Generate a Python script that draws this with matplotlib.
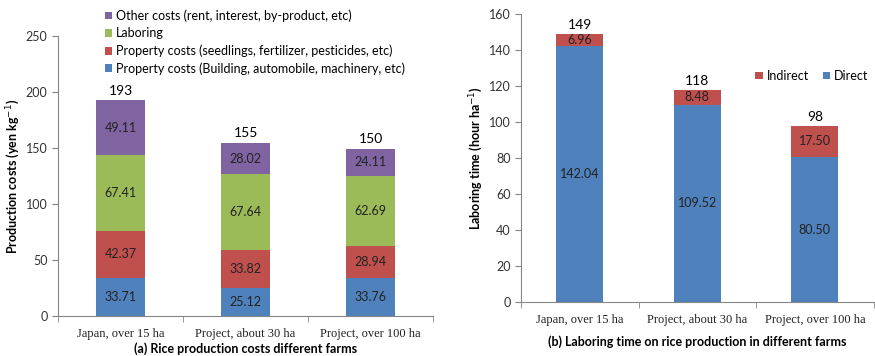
import numpy as np
import matplotlib.pyplot as plt

farms = ['Japan, over 15 ha', 'Project, about 30 ha', 'Project, over 100 ha']

# (a) production costs, yen/kg
building = [33.71, 25.12, 33.76]
seedlings = [42.37, 33.82, 28.94]
laboring = [67.41, 67.64, 62.69]
other = [49.11, 28.02, 24.11]
cost_totals = [193, 155, 150]

# (b) laboring time, hour/ha
direct = [142.04, 109.52, 80.50]
indirect = [6.96, 8.48, 17.50]
time_totals = [149, 118, 98]

blue, red, green, purple = '#4F81BD', '#C0504D', '#9BBB59', '#8064A2'
sans = 'Lato'
serif = 'Liberation Serif'

fig = plt.figure(figsize=(8.75, 3.56), dpi=100)
ax1 = fig.add_axes([0.0663, 0.1124, 0.4287, 0.7866])
ax2 = fig.add_axes([0.5954, 0.1517, 0.4030, 0.8090])

x = np.arange(len(farms))


def style(ax, ymax, step):
    for s in ['top', 'right']:
        ax.spines[s].set_visible(False)
    for s in ['left', 'bottom']:
        ax.spines[s].set_color('#868686')
    ax.set_xlim(-0.5, len(farms) - 0.5)
    ax.set_ylim(0, ymax)
    ax.set_yticks(np.arange(0, ymax + 1, step))
    ax.tick_params(axis='y', colors='#868686', labelcolor='#333333', length=4)
    ax.set_xticks(x)
    ax.set_xticks(np.arange(-0.5, len(farms), 1.0), minor=True)
    ax.tick_params(axis='x', which='major', length=0, pad=9)
    ax.tick_params(axis='x', which='minor', length=4, colors='#868686')
    ax.set_xticklabels(farms, fontsize=9, family=serif, color='#222222')
    for lab in ax.get_yticklabels():
        lab.set_family(sans)
        lab.set_fontsize(9)


# ---- panel (a)
w = 0.39
bottom = np.zeros(3)
series = [(building, blue, 'Property costs (Building, automobile, machinery, etc)'),
          (seedlings, red, 'Property costs (seedlings, fertilizer, pesticides, etc)'),
          (laboring, green, 'Laboring'),
          (other, purple, 'Other costs (rent, interest, by-product, etc)')]
handles = []
for vals, col, lab in series:
    b = ax1.bar(x, vals, w, bottom=bottom, color=col, label=lab)
    handles.append(b)
    for xi, v, bt in zip(x, vals, bottom):
        ax1.text(xi, bt + v / 2, f'{v:.2f}', ha='center', va='center',
                 fontsize=9, family=sans, color='#222222')
    bottom = bottom + np.array(vals)
for xi, t, bt in zip(x, cost_totals, bottom):
    ax1.text(xi, bt + 3, str(t), ha='center', va='bottom', fontsize=10, family=sans)
style(ax1, 250, 50)
ax1.set_ylabel('Production costs (yen kg$^{-1}$)', fontsize=9, family=sans,
               fontweight='bold', labelpad=3)
ax1.legend(handles[::-1], [h.get_label() for h in handles[::-1]],
           loc='upper left', bbox_to_anchor=(0.125, 1.095), frameon=False,
           prop={'family': sans, 'size': 9}, handlelength=0.6, handleheight=0.6,
           handletextpad=0.3, labelspacing=0.42, borderaxespad=0, borderpad=0)
ax1.text(0.5, -0.118, '(a) Rice production costs different farms', transform=ax1.transAxes,
         ha='center', va='center', fontsize=9, family=sans, fontweight='bold')

# ---- panel (b)
w2 = 0.4
bd = ax2.bar(x, direct, w2, color=blue, label='Direct')
bi = ax2.bar(x, indirect, w2, bottom=direct, color=red, label='Indirect')
for xi, d, ind, t in zip(x, direct, indirect, time_totals):
    ax2.text(xi, d / 2, f'{d:.2f}', ha='center', va='center', fontsize=9,
             family=sans, color='#222222')
    ax2.text(xi, d + ind / 2, f'{ind:.2f}', ha='center', va='center', fontsize=9,
             family=sans, color='#222222')
    ax2.text(xi, d + ind + 1.5, str(t), ha='center', va='bottom', fontsize=10, family=sans)
style(ax2, 160, 20)
ax2.set_ylabel('Laboring time (hour ha$^{-1}$)', fontsize=9, family=sans,
               fontweight='bold', labelpad=3)
ax2.legend([bi, bd], ['Indirect', 'Direct'], loc='center left', bbox_to_anchor=(0.665, 0.785),
           ncol=2, frameon=False, prop={'family': sans, 'size': 9}, handlelength=0.6,
           handleheight=0.6, handletextpad=0.3, columnspacing=1.1, borderaxespad=0,
           borderpad=0)
ax2.text(0.5, -0.139, '(b) Laboring time on rice production in different farms',
         transform=ax2.transAxes, ha='center', va='center', fontsize=9, family=sans,
         fontweight='bold')

fig.savefig('out.png', dpi=100)
